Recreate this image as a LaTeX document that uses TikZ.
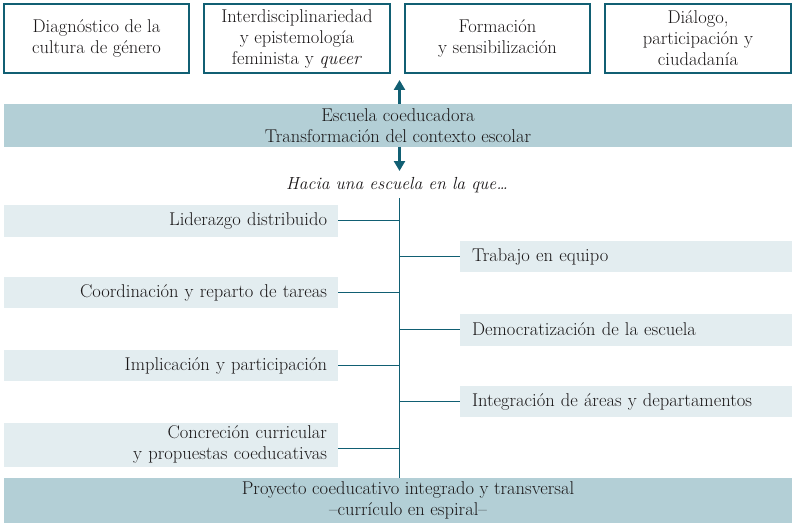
\documentclass[tikz,border=0pt]{standalone}
\usepackage{fontspec}
\usetikzlibrary{arrows.meta}
\definecolor{teal}{HTML}{115F73}
\definecolor{lightbox}{HTML}{E3EDF0}
\definecolor{banner}{HTML}{B3CFD6}
\definecolor{ink}{HTML}{1A1718}
\tikzset{
  every node/.style={text=ink, font=\fontsize{18.5}{21}\selectfont},
  topbox/.style={draw=teal, line width=1.3pt, fill=white, minimum height=69pt, align=center, inner sep=0pt},
  bannerbox/.style={fill=banner, minimum width=788pt, align=center, inner sep=0pt},
  leftbox/.style={fill=lightbox, text width=312pt, inner xsep=11pt, inner ysep=0pt, align=right},
  rightbox/.style={fill=lightbox, text width=308pt, inner xsep=12pt, inner ysep=0pt, align=left},
  conn/.style={draw=teal, line width=1.5pt},
  bigarrow/.style={draw=teal, line width=3.2pt, -{Triangle[width=11pt,length=10pt]}}
}
\begin{document}
\begin{tikzpicture}[x=1pt,y=-1pt]
\useasboundingbox (0,0) rectangle (796,527);
% top boxes
\node[topbox, minimum width=185pt] (t1) at (96.5,38.5) {Diagnóstico de la\\cultura de género};
\node[topbox, minimum width=186pt] (t2) at (297,38.5) {Interdisciplinariedad\\y epistemología\\feminista y \textit{queer}};
\node[topbox, minimum width=185pt] (t3) at (497.5,38.5) {Formación\\y sensibilización};
\node[topbox, minimum width=186pt] (t4) at (698,38.5) {Diálogo,\\participación y\\ciudadanía};
% banner
\node[bannerbox, minimum height=43pt] (b1) at (398,125.5) {Escuela coeducadora\\Transformación del contexto escolar};
\coordinate (up) at (399.5,80);
\coordinate (down) at (399.5,171);
\draw[bigarrow] (b1.north -| up) -- (up);
\draw[bigarrow] (b1.south -| down) -- (down);
\node[font=\fontsize{17.5}{21}\selectfont\itshape] (hacia) at (397,185) {Hacia una escuela en la que…};
% bottom banner
\node[bannerbox, minimum height=45pt] (b2) at (398,500.5) {};
\node[align=center, inner sep=0pt] (b2t) at (408,500.5) {Proyecto coeducativo integrado y transversal\\–currículo en espiral–};
\coordinate (spine) at (399.5,198);
\draw[conn] (spine) -- (spine |- b2.north);
% left boxes
\node[leftbox, minimum height=32pt] (l1) at (171,220.5) {Liderazgo distribuido};
\node[leftbox, minimum height=31pt] (l2) at (171,292.5) {Coordinación y reparto de tareas};
\node[leftbox, minimum height=31pt] (l3) at (171,365.5) {Implicación y participación};
\node[leftbox, minimum height=44pt] (l4) at (171,444.5) {Concreción curricular\\y propuestas coeducativas};
% right boxes
\node[rightbox, minimum height=31pt] (r1) at (626,256.5) {Trabajo en equipo};
\node[rightbox, minimum height=32pt] (r2) at (626,329.5) {Democratización de la escuela};
\node[rightbox, minimum height=31pt] (r3) at (626,401.5) {Integración de áreas y departamentos};
% connectors
\draw[conn] (l1.east) -- (l1.east -| spine);
\draw[conn] (l2.east) -- (l2.east -| spine);
\draw[conn] (l3.east) -- (l3.east -| spine);
\draw[conn] ([yshift=-4pt]l4.east) -- ([yshift=-4pt]l4.east -| spine);
\draw[conn] (r1.west) -- (r1.west -| spine);
\draw[conn] (r2.west) -- (r2.west -| spine);
\draw[conn] (r3.west) -- (r3.west -| spine);
\end{tikzpicture}
\end{document}
